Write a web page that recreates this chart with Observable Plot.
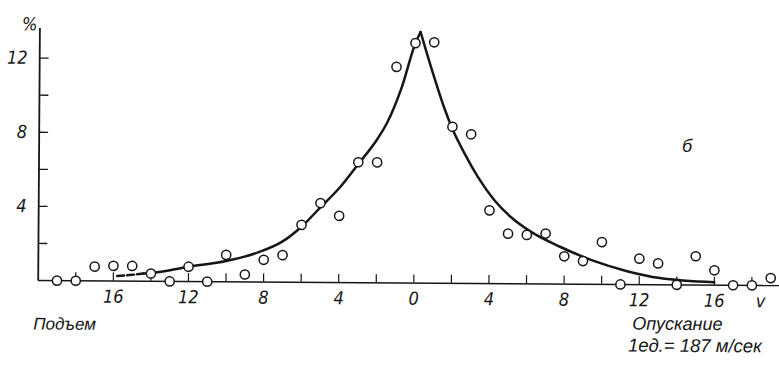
<!DOCTYPE html>
<html>
<head>
<meta charset="utf-8">
<script src="https://cdn.jsdelivr.net/npm/d3@7"></script>
<script src="https://cdn.jsdelivr.net/npm/@observablehq/plot@0.6"></script>
<style>
  body { margin: 0; background: #fff; }
  #fig { position: relative; width: 779px; height: 368px; transform: rotate(0.39deg); transform-origin: 38px 280px; }
</style>
</head>
<body>
<div id="fig"></div>
<script>
// Measured distribution of vertical velocity (units of 187 m/s), in percent.
const pointV = [-19,-18,-17,-16,-15,-14,-13,-12,-11,-10,-9,-8,-7,-6,-5,-4,-3,-2,-1,0,1,2,3,4,5,6,7,8,9,10,11,12,13,14,15,16,17,18,19];
const pointPct = [0,0,0.77,0.82,0.82,0.42,0,0.8,0,1.45,0.4,1.2,1.46,3.1,4.28,3.6,6.5,6.5,11.66,12.95,13.0,8.45,8.05,3.95,2.7,2.64,2.72,1.5,1.25,2.28,0,1.4,1.15,0,1.55,0.8,0,0,0.4];

// Fitted curve: dashed tail, rising (ascent) branch, falling (descent) branch.
const tailV = [-15.8, -15, -14.4];
const tailPct = [0.27, 0.34, 0.42];
const riseV = [-14.4, -14, -12, -10, -8.3, -7, -6, -5, -4, -3, -2, -1.5, -0.7, 0, 0.27];
const risePct = [0.42, 0.45, 0.8, 1.12, 1.6, 2.2, 3.0, 4.05, 5.1, 6.4, 7.75, 8.6, 10.6, 12.95, 13.55];
const fallV = [0.27, 0.89, 1.6, 1.95, 2.66, 3.37, 4.26, 5.14, 6.12, 7.8, 9.57, 11.35, 13.1, 16];
const fallPct = [13.55, 11.5, 9.35, 8.45, 7.0, 5.75, 4.5, 3.6, 2.87, 2.0, 1.26, 0.72, 0.36, 0.15];

// Axis ticks and labels
const xLabelTicks = [-16, -12, -8, -4, 0, 4, 8, 12, 16];
const xMinorTicks = [-18, -16, -14, -12, -10, -8, -6, -4, -2, 0, 2, 4, 6, 8, 10, 12, 14, 16, 18];
const yLabelTicks = [4, 8, 12];
const yMinorTicks = [2, 4, 6, 8, 10, 12];

const ink = "#161616";
const digitFont = "'Liberation Sans Narrow', 'DejaVu Sans Condensed', sans-serif";
const wordFont = "'Liberation Sans', 'DejaVu Sans', sans-serif";

const points = pointV.map((v, i) => ({v, pct: pointPct[i]}));
const tail = tailV.map((v, i) => ({v, pct: tailPct[i]}));
const rise = riseV.map((v, i) => ({v, pct: risePct[i]}));
const fall = fallV.map((v, i) => ({v, pct: fallPct[i]}));

const italic = {fontStyle: "italic", fill: ink};

const chart = Plot.plot({
  width: 779,
  height: 368,
  marginLeft: 37.7,
  marginRight: 0,
  marginTop: 28,
  marginBottom: 88,
  x: {domain: [-20, 19.47]},
  y: {domain: [0, 13.6]},
  style: {background: "white", color: ink, overflow: "visible"},
  marks: [
    // axis lines and inward ticks
    Plot.ruleY([0], {stroke: ink, strokeWidth: 1.6}),
    Plot.ruleX([-20], {stroke: ink, strokeWidth: 1.8}),
    Plot.ruleY(yMinorTicks, {y: d => d, x1: -20, x2: -19.5, stroke: ink, strokeWidth: 1.3}),
    Plot.ruleX(xMinorTicks, {x: d => d, y1: 0, y2: 0.43, stroke: ink, strokeWidth: 1.2}),
    Plot.axisX(xLabelTicks, {tickSize: 0, tickPadding: 9, tickFormat: d => Math.abs(d), fontSize: 18, fontFamily: digitFont, label: null, ...italic}),
    Plot.axisY(yLabelTicks, {tickSize: 0, tickPadding: 12, fontSize: 18, fontFamily: digitFont, label: null, ...italic}),
    // fitted curve
    Plot.line(tail, {x: "v", y: "pct", stroke: ink, strokeWidth: 2.5, strokeDasharray: "7,3", curve: "monotone-x"}),
    Plot.line(rise, {x: "v", y: "pct", stroke: ink, strokeWidth: 2.5, curve: "monotone-x"}),
    Plot.line(fall, {x: "v", y: "pct", stroke: ink, strokeWidth: 2.5, curve: "monotone-x"}),
    // observations
    Plot.dot(points, {x: "v", y: "pct", r: 4.6, fill: "white", stroke: ink, strokeWidth: 1.5}),
    // labels
    Plot.text(["%"], {frameAnchor: "top-left", dx: -18, dy: -11, fontSize: 18, fontFamily: digitFont, ...italic}),
    Plot.text(["б"], {x: 14.5, y: 7.5, fontSize: 18, fontFamily: wordFont, ...italic}),
    Plot.text(["v"], {frameAnchor: "bottom-right", dx: -14, dy: 9, lineAnchor: "top", fontSize: 18, fontFamily: digitFont, ...italic}),
    Plot.text(["Подъем"], {frameAnchor: "bottom-left", dx: -4.7, dy: 49, textAnchor: "start", fontSize: 17, fontFamily: wordFont, ...italic}),
    Plot.text(["Опускание"], {frameAnchor: "bottom-right", dx: -147, dy: 45, textAnchor: "start", fontSize: 18, fontFamily: wordFont, ...italic}),
    Plot.text(["1ед.= 187 м/сек"], {frameAnchor: "bottom-right", dx: -151, dy: 67, textAnchor: "start", fontSize: 18.5, fontFamily: wordFont, ...italic})
  ]
});

document.getElementById("fig").appendChild(chart);
</script>
</body>
</html>
